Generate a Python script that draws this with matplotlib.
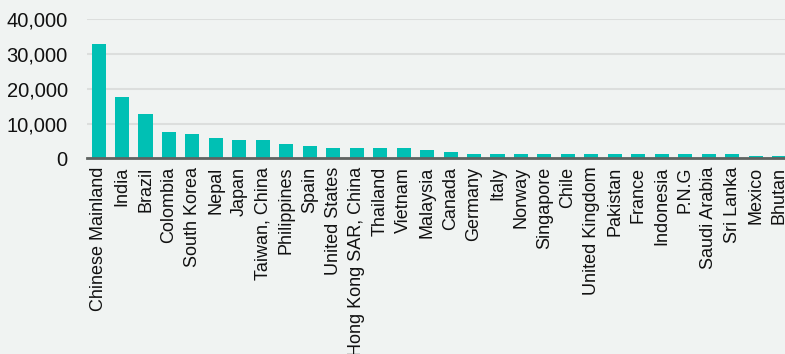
import matplotlib.pyplot as plt
import matplotlib.ticker as mticker

plt.rcParams['font.family'] = ['Liberation Sans', 'DejaVu Sans']

# datos
paises = ['Chinese Mainland', 'India', 'Brazil', 'Colombia', 'South Korea', 'Nepal',
          'Japan', 'Taiwan, China', 'Philippines', 'Spain', 'United States',
          'Hong Kong SAR, China', 'Thailand', 'Vietnam', 'Malaysia', 'Canada',
          'Germany', 'Italy', 'Norway', 'Singapore', 'Chile', 'United Kingdom',
          'Pakistan', 'France', 'Indonesia', 'P.N.G', 'Saudi Arabia', 'Sri Lanka',
          'Mexico', 'Bhutan']
valores = [32800, 17800, 12700, 7500, 6900, 5850, 5200, 5200, 4100, 3550, 2970,
           2970, 2970, 2970, 2400, 1820, 1240, 1240, 1240, 1240, 1240, 1240,
           1240, 1240, 1240, 1240, 1240, 1240, 670, 670]
y_ticks = [0, 10000, 20000, 30000, 40000]

fondo = '#f0f3f2'
W, H = 785, 354
fig = plt.figure(figsize=(W / 100, H / 100), dpi=100, facecolor=fondo)
ax = fig.add_axes([87.3 / W, (H - 158.5) / H, (W - 87.3) / W, (158.5 - 19.3) / H])
ax.set_facecolor(fondo)

x = range(len(paises))
ax.bar(x, valores, width=0.6, color='#00c0b4', zorder=3)

ax.set_xlim(-0.48, 29.25)
ax.set_ylim(0, 40000)
ax.set_yticks(y_ticks)
ax.yaxis.set_major_formatter(mticker.FuncFormatter(lambda v, p: f'{int(v):,}'))
ax.set_xticks(list(x))
ax.set_xticklabels(paises, rotation=90, ha='center', va='top')

ax.grid(axis='y', color='#dcdedd', linewidth=1.5, zorder=0)
ax.tick_params(axis='both', length=0, colors='#111111')
ax.tick_params(axis='y', pad=14, labelsize=14.5)
ax.tick_params(axis='x', pad=6, labelsize=13)

for lado in ['top', 'right', 'left']:
    ax.spines[lado].set_visible(False)
ax.spines['bottom'].set_color('#5f6361')
ax.spines['bottom'].set_linewidth(2)
ax.spines['bottom'].set_zorder(4)

fig.savefig('out.png', dpi=100, facecolor=fondo)
